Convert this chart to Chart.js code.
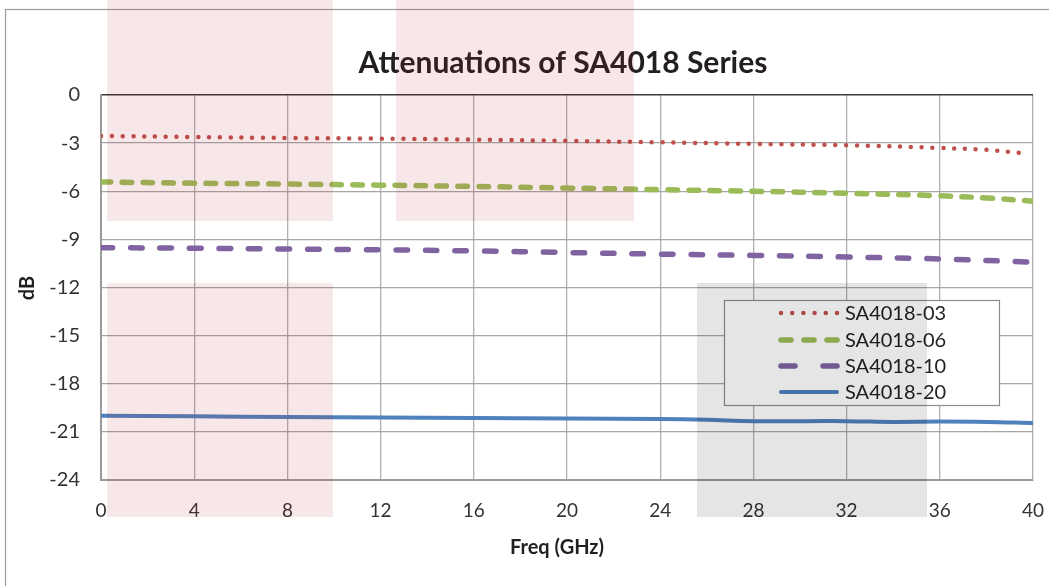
<!DOCTYPE html>
<html>
<head>
<meta charset="utf-8">
<title>Attenuations of SA4018 Series</title>
<script src="https://cdn.jsdelivr.net/npm/chart.js@4.4.1/dist/chart.umd.min.js"></script>
<style>
  html, body { margin: 0; padding: 0; background: #ffffff; }
  #wrap { width: 1049px; height: 586px; position: relative; }
</style>
</head>
<body>
<div id="wrap"><canvas id="attChart"></canvas></div>
<script>
// values
const xTicks = [0, 4, 8, 12, 16, 20, 24, 28, 32, 36, 40];
const yTicks = [0, -3, -6, -9, -12, -15, -18, -21, -24];

const seriesNames = ['SA4018-03', 'SA4018-06', 'SA4018-10', 'SA4018-20'];

const freq03 = [0, 4, 8, 12, 16, 20, 24, 28, 32, 36, 38, 39.4];
const att03  = [-2.55, -2.62, -2.68, -2.72, -2.78, -2.86, -2.95, -3.05, -3.13, -3.3, -3.42, -3.6];

const freq06 = [0, 4, 8, 12, 16, 20, 24, 28, 32, 36, 38, 40];
const att06  = [-5.42, -5.5, -5.55, -5.62, -5.7, -5.8, -5.9, -6.0, -6.12, -6.28, -6.42, -6.62];

const freq10 = [0, 4, 8, 12, 16, 20, 24, 28, 32, 36, 40];
const att10  = [-9.52, -9.55, -9.6, -9.65, -9.72, -9.82, -9.92, -10.0, -10.1, -10.22, -10.42];

const freq20 = [0, 4, 8, 12, 16, 20, 24, 26, 28, 32, 34, 36, 38, 40];
const att20  = [-20.0, -20.03, -20.08, -20.1, -20.13, -20.16, -20.2, -20.25, -20.33, -20.33, -20.38, -20.36, -20.38, -20.45];

const FONT = 'Lato, "Open Sans", sans-serif';
const toPoints = (xs, ys) => xs.map((x, i) => ({ x: x, y: ys[i] }));

// frame, titles, legend and the tinted patches of the scan
const decorPlugin = {
  id: 'decor',
  beforeDraw(chart) {
    const c = chart.ctx;
    c.save();
    c.fillStyle = '#ffffff';
    c.fillRect(0, 0, chart.width, chart.height);
    c.strokeStyle = '#9a9a9a';
    c.lineWidth = 1.2;
    c.strokeRect(5.5, 9.5, 1200, 700);
    c.restore();
  },
  afterDraw(chart) {
    const c = chart.ctx;
    c.save();

    // title and axis titles
    c.fillStyle = '#231f20';
    c.textAlign = 'center';
    c.textBaseline = 'middle';
    c.font = 'bold 30px ' + FONT;
    c.fillText('Attenuations of SA4018 Series', 563, 63);
    c.font = 'bold 20px ' + FONT;
    c.fillText('Freq (GHz)', 557, 548);
    c.save();
    c.translate(28, 288);
    c.rotate(-Math.PI / 2);
    c.fillText('dB', 0, 0);
    c.restore();

    // legend box
    c.fillStyle = '#ffffff';
    c.fillRect(724, 300, 276, 106);
    c.strokeStyle = '#8c8c8c';
    c.lineWidth = 1.2;
    c.strokeRect(724.5, 300.5, 275, 105);
    const rows = [313, 340, 366, 392];
    chart.data.datasets.forEach((ds, i) => {
      c.beginPath();
      c.strokeStyle = ds.borderColor;
      c.lineWidth = ds.borderWidth;
      c.lineCap = ds.borderCapStyle;
      c.setLineDash(ds.legendDash || []);
      c.moveTo(781, rows[i]);
      c.lineTo(837, rows[i]);
      c.stroke();
      c.setLineDash([]);
      c.fillStyle = '#231f20';
      c.textAlign = 'left';
      c.textBaseline = 'middle';
      c.font = '20px ' + FONT;
      c.fillText(ds.label, 845, rows[i] + 1);
    });

    // tinted patches over the picture
    c.fillStyle = 'rgba(180, 40, 50, 0.11)';
    c.fillRect(107, 0, 226, 221);
    c.fillRect(396, 0, 238, 221);
    c.fillRect(107, 283, 226, 234);
    c.fillStyle = 'rgba(0, 0, 0, 0.10)';
    c.fillRect(697, 283, 230, 234);
    c.restore();
  }
};

new Chart(document.getElementById('attChart'), {
  type: 'line',
  data: {
    datasets: [
      {
        label: seriesNames[0],
        data: toPoints(freq03, att03),
        borderColor: '#c0504d',
        borderWidth: 4.5,
        borderDash: [0, 10.8],
        legendDash: [0, 11.2],
        borderCapStyle: 'round',
        pointRadius: 0,
        tension: 0.4
      },
      {
        label: seriesNames[1],
        data: toPoints(freq06, att06),
        borderColor: '#9bbb59',
        borderWidth: 5.5,
        borderDash: [9.5, 11.5],
        legendDash: [10, 13],
        borderCapStyle: 'round',
        pointRadius: 0,
        tension: 0.4
      },
      {
        label: seriesNames[2],
        data: toPoints(freq10, att10),
        borderColor: '#8064a2',
        borderWidth: 5.5,
        borderDash: [11.5, 18],
        legendDash: [14, 28],
        borderCapStyle: 'round',
        pointRadius: 0,
        tension: 0.4
      },
      {
        label: seriesNames[3],
        data: toPoints(freq20, att20),
        borderColor: '#4f81bd',
        borderWidth: 4,
        borderCapStyle: 'round',
        pointRadius: 0,
        tension: 0.4
      }
    ]
  },
  options: {
    responsive: true,
    maintainAspectRatio: false,
    animation: false,
    devicePixelRatio: 1,
    layout: {
      padding: { top: 95, right: 16, bottom: 0, left: 0 }
    },
    plugins: {
      legend: { display: false },
      title: { display: false },
      tooltip: { enabled: false }
    },
    scales: {
      x: {
        type: 'linear',
        min: 0,
        max: 40,
        afterBuildTicks: (scale) => { scale.ticks = xTicks.map(v => ({ value: v })); },
        afterFit: (scale) => {
          scale.height = 106;
          scale.paddingLeft = 0;
          scale.paddingRight = 0;
        },
        grid: {
          color: '#b0b0b0',
          lineWidth: 1.3,
          drawTicks: false
        },
        border: { color: '#9a9a9a', width: 2 },
        ticks: {
          color: '#333333',
          padding: 19,
          font: { size: 19, family: FONT }
        }
      },
      y: {
        type: 'linear',
        min: -24,
        max: 0,
        afterBuildTicks: (scale) => { scale.ticks = yTicks.map(v => ({ value: v })); },
        afterFit: (scale) => { scale.width = 101; },
        grid: {
          color: (ctx) => ctx.tick && ctx.tick.value === 0 ? '#3a3a3a' : '#a6a6a6',
          lineWidth: (ctx) => ctx.tick && ctx.tick.value === 0 ? 1.6 : 1.3,
          drawTicks: false
        },
        border: { color: '#9a9a9a', width: 2 },
        ticks: {
          color: '#333333',
          padding: 21,
          font: { size: 20, family: FONT }
        }
      }
    }
  },
  plugins: [decorPlugin]
});
</script>
</body>
</html>
